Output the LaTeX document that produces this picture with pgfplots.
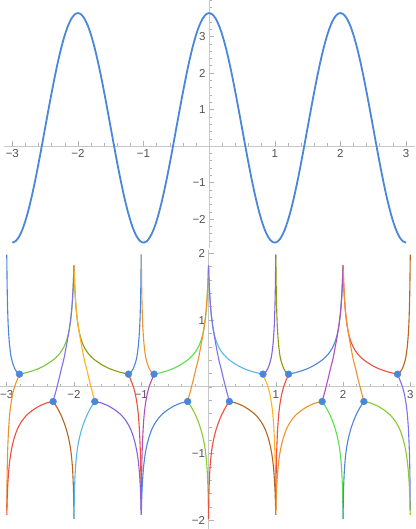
\documentclass[border=0pt]{standalone}
\usepackage{fontspec}
\setmainfont{Liberation Sans}
\usepackage{pgfplots}
\usepackage{pgfplotstable}
\pgfplotsset{compat=1.18}

\definecolor{mblue}{HTML}{4A86D9}
\definecolor{morange}{HTML}{F0922B}
\definecolor{mgreen}{HTML}{7DC53A}
\definecolor{mred}{HTML}{EE4F3C}
\definecolor{mpurple}{HTML}{8A5FE0}
\definecolor{mviolet}{HTML}{7B72EC}
\definecolor{mbrown}{HTML}{B8641A}
\definecolor{mlblue}{HTML}{5BB5E5}
\definecolor{myorange}{HTML}{FFB41F}
\definecolor{mmagenta}{HTML}{B04FC0}
\definecolor{molive}{HTML}{8C9A12}
\definecolor{mbgreen}{HTML}{5CE04A}
\definecolor{mygreen}{HTML}{86CC2A}

\pgfplotsset{
  mstyle/.style={
    scale only axis, anchor=south west,
    axis lines=middle,
    axis line style={draw=black!22, line width=0.7pt, -},
    tick style={draw=black!30, line width=0.5pt},
    major tick length=5pt, minor tick length=3pt,
    tick align=inside,
    tick label style={font=\fontsize{11.5}{12}\selectfont, text=black!68},
    xtick={-3,-2,-1,0,1,2,3},
    xticklabels={−3,−2,−1,,1,2,3},
    minor xtick={-3,-2.8,...,3},
  },
  bline/.style={line width=1.1pt, smooth},
}

\pgfplotstableread{
y a b c d e f
0.19 -2.81 -1.19 -0.81 0.81 1.19 2.81
0.215 -2.7 -1.3 -0.7 0.7 1.3 2.7
0.245 -2.6 -1.4 -0.6 0.6 1.4 2.6
0.285 -2.5 -1.5 -0.5 0.5 1.5 2.5
0.34 -2.4 -1.6 -0.4 0.4 1.6 2.4
0.41 -2.3 -1.7 -0.3 0.3 1.7 2.3
0.49 -2.22 -1.78 -0.22 0.22 1.78 2.22
0.58 -2.16 -1.84 -0.16 0.16 1.84 2.16
0.67 -2.12 -1.88 -0.12 0.12 1.88 2.12
0.77 -2.09 -1.91 -0.09 0.09 1.91 2.09
0.89 -2.065 -1.935 -0.065 0.065 1.935 2.065
1.04 -2.045 -1.955 -0.045 0.045 1.955 2.045
1.19 -2.03 -1.97 -0.03 0.03 1.97 2.03
1.33 -2.02 -1.98 -0.02 0.02 1.98 2.02
1.49 -2.012 -1.988 -0.012 0.012 1.988 2.012
1.65 -2.006 -1.994 -0.006 0.006 1.994 2.006
1.82 -2.002 -1.998 -0.002 0.002 1.998 2.002
}\Hp

\pgfplotstableread{
y a b c d e f
0.19 -2.81 -1.19 -0.81 0.81 1.19 2.81
0.22 -2.85 -1.15 -0.85 0.85 1.15 2.85
0.27 -2.88 -1.12 -0.88 0.88 1.12 2.88
0.35 -2.91 -1.09 -0.91 0.91 1.09 2.91
0.45 -2.935 -1.065 -0.935 0.935 1.065 2.935
0.6 -2.955 -1.045 -0.955 0.955 1.045 2.955
0.74 -2.967 -1.033 -0.967 0.967 1.033 2.967
0.92 -2.978 -1.022 -0.978 0.978 1.022 2.978
1.12 -2.985 -1.015 -0.985 0.985 1.015 2.985
1.35 -2.991 -1.009 -0.991 0.991 1.009 2.991
1.6 -2.995 -1.005 -0.995 0.995 1.005 2.995
1.85 -2.998 -1.002 -0.998 0.998 1.002 2.998
1.98 -2.9995 -1.0005 -0.9995 0.9995 1.0005 2.9995
}\Vp

\pgfplotstableread{
y a b c d e f
0.19 -2.81 -1.19 -0.81 0.81 1.19 2.81
0.14 -2.83 -1.17 -0.83 0.83 1.17 2.83
0.09 -2.85 -1.15 -0.85 0.85 1.15 2.85
0.01 -2.88 -1.12 -0.88 0.88 1.12 2.88
-0.1 -2.91 -1.09 -0.91 0.91 1.09 2.91
-0.24 -2.935 -1.065 -0.935 0.935 1.065 2.935
-0.4 -2.955 -1.045 -0.955 0.955 1.045 2.955
-0.6 -2.97 -1.03 -0.97 0.97 1.03 2.97
-0.8 -2.98 -1.02 -0.98 0.98 1.02 2.98
-1.02 -2.988 -1.012 -0.988 0.988 1.012 2.988
-1.25 -2.993 -1.007 -0.993 0.993 1.007 2.993
-1.45 -2.996 -1.004 -0.996 0.996 1.004 2.996
-1.65 -2.998 -1.002 -0.998 0.998 1.002 2.998
-1.85 -2.9995 -1.0005 -0.9995 0.9995 1.0005 2.9995
}\Vm

\pgfplotstableread{
y a b c d e f
-0.22 -2.31 -1.69 -0.31 0.31 1.69 2.31
-0.24 -2.4 -1.6 -0.4 0.4 1.6 2.4
-0.28 -2.5 -1.5 -0.5 0.5 1.5 2.5
-0.34 -2.6 -1.4 -0.6 0.6 1.4 2.6
-0.42 -2.7 -1.3 -0.7 0.7 1.3 2.7
-0.52 -2.78 -1.22 -0.78 0.78 1.22 2.78
-0.63 -2.84 -1.16 -0.84 0.84 1.16 2.84
-0.74 -2.88 -1.12 -0.88 0.88 1.12 2.88
-0.87 -2.915 -1.085 -0.915 0.915 1.085 2.915
-1.0 -2.94 -1.06 -0.94 0.94 1.06 2.94
-1.15 -2.96 -1.04 -0.96 0.96 1.04 2.96
-1.32 -2.975 -1.025 -0.975 0.975 1.025 2.975
-1.48 -2.985 -1.015 -0.985 0.985 1.015 2.985
-1.64 -2.992 -1.008 -0.992 0.992 1.008 2.992
-1.82 -2.997 -1.003 -0.997 0.997 1.003 2.997
-1.92 -2.999 -1.001 -0.999 0.999 1.001 2.999
}\Hm

\pgfplotstableread{
y a b c d e f
-0.22 -2.31 -1.69 -0.31 0.31 1.69 2.31
-0.14 -2.29 -1.71 -0.29 0.29 1.71 2.29
-0.07 -2.27 -1.73 -0.27 0.27 1.73 2.27
0.01 -2.25 -1.75 -0.25 0.25 1.75 2.25
0.13 -2.22 -1.78 -0.22 0.22 1.78 2.22
0.26 -2.19 -1.81 -0.19 0.19 1.81 2.19
0.42 -2.15 -1.85 -0.15 0.15 1.85 2.15
0.63 -2.11 -1.89 -0.11 0.11 1.89 2.11
0.8 -2.08 -1.92 -0.08 0.08 1.92 2.08
0.97 -2.055 -1.945 -0.055 0.055 1.945 2.055
1.15 -2.035 -1.965 -0.035 0.035 1.965 2.035
1.36 -2.02 -1.98 -0.02 0.02 1.98 2.02
1.56 -2.01 -1.99 -0.01 0.01 1.99 2.01
1.7 -2.004 -1.996 -0.004 0.004 1.996 2.004
1.82 -2.001 -1.999 -0.001 0.001 1.999 2.001
}\Wp

\pgfplotstableread{
y a b c d e f
-0.22 -2.31 -1.69 -0.31 0.31 1.69 2.31
-0.28 -2.27 -1.73 -0.27 0.27 1.73 2.27
-0.35 -2.23 -1.77 -0.23 0.23 1.77 2.23
-0.43 -2.19 -1.81 -0.19 0.19 1.81 2.19
-0.53 -2.15 -1.85 -0.15 0.15 1.85 2.15
-0.65 -2.11 -1.89 -0.11 0.11 1.89 2.11
-0.77 -2.08 -1.92 -0.08 0.08 1.92 2.08
-0.9 -2.055 -1.945 -0.055 0.055 1.945 2.055
-1.06 -2.035 -1.965 -0.035 0.035 1.965 2.035
-1.25 -2.02 -1.98 -0.02 0.02 1.98 2.02
-1.47 -2.01 -1.99 -0.01 0.01 1.99 2.01
-1.65 -2.005 -1.995 -0.005 0.005 1.995 2.005
-1.85 -2.002 -1.998 -0.002 0.002 1.998 2.002
-1.98 -2.0005 -1.9995 -0.0005 0.0005 1.9995 2.0005
}\Wm

\pgfplotstableread{
x y
-3 -2.6416
-2.95 -2.6029
-2.9 -2.4880
-2.85 -2.2992
-2.8 -2.0416
-2.75 -1.7214
-2.7 -1.3466
-2.65 -0.9263
-2.6 -0.4708
-2.55 0.0086
-2.5 0.5
-2.45 0.9914
-2.4 1.4708
-2.35 1.9263
-2.3 2.3466
-2.25 2.7214
-2.2 3.0416
-2.15 3.2992
-2.1 3.4880
-2.05 3.6029
-2 3.6416
-1.95 3.6029
-1.9 3.4880
-1.85 3.2992
-1.8 3.0416
-1.75 2.7214
-1.7 2.3466
-1.65 1.9263
-1.6 1.4708
-1.55 0.9914
-1.5 0.5
-1.45 0.0086
-1.4 -0.4708
-1.35 -0.9263
-1.3 -1.3466
-1.25 -1.7214
-1.2 -2.0416
-1.15 -2.2992
-1.1 -2.4880
-1.05 -2.6029
-1 -2.6416
-0.95 -2.6029
-0.9 -2.4880
-0.85 -2.2992
-0.8 -2.0416
-0.75 -1.7214
-0.7 -1.3466
-0.65 -0.9263
-0.6 -0.4708
-0.55 0.0086
-0.5 0.5
-0.45 0.9914
-0.4 1.4708
-0.35 1.9263
-0.3 2.3466
-0.25 2.7214
-0.2 3.0416
-0.15 3.2992
-0.1 3.4880
-0.05 3.6029
0 3.6416
0.05 3.6029
0.1 3.4880
0.15 3.2992
0.2 3.0416
0.25 2.7214
0.3 2.3466
0.35 1.9263
0.4 1.4708
0.45 0.9914
0.5 0.5
0.55 0.0086
0.6 -0.4708
0.65 -0.9263
0.7 -1.3466
0.75 -1.7214
0.8 -2.0416
0.85 -2.2992
0.9 -2.4880
0.95 -2.6029
1 -2.6416
1.05 -2.6029
1.1 -2.4880
1.15 -2.2992
1.2 -2.0416
1.25 -1.7214
1.3 -1.3466
1.35 -0.9263
1.4 -0.4708
1.45 0.0086
1.5 0.5
1.55 0.9914
1.6 1.4708
1.65 1.9263
1.7 2.3466
1.75 2.7214
1.8 3.0416
1.85 3.2992
1.9 3.4880
1.95 3.6029
2 3.6416
2.05 3.6029
2.1 3.4880
2.15 3.2992
2.2 3.0416
2.25 2.7214
2.3 2.3466
2.35 1.9263
2.4 1.4708
2.45 0.9914
2.5 0.5
2.55 0.0086
2.6 -0.4708
2.65 -0.9263
2.7 -1.3466
2.75 -1.7214
2.8 -2.0416
2.85 -2.2992
2.9 -2.4880
2.95 -2.6029
3 -2.6416
}\Top

\begin{document}
\begin{tikzpicture}
\useasboundingbox (0,0) rectangle (415pt,529pt);
\begin{axis}[mstyle, at={(3.8pt,281pt)}, width=410.7pt, height=248pt,
  xmin=-3.13, xmax=3.13, ymin=-2.79, ymax=4.0,
  ytick={-2,-1,0,1,2,3}, yticklabels={−2,−1,,1,2,3},
  minor ytick={-2.6,-2.4,...,4}]
\addplot[mblue, line width=1.8pt, smooth] table[x=x,y=y] {\Top};
\end{axis}
\begin{axis}[mstyle, at={(0pt,0pt)}, width=415pt, height=279pt,
  xmin=-3.1, xmax=3.07, ymin=-2.13, ymax=2.05,
  ytick={-2,-1,0,1,2}, yticklabels={−2,−1,,1,2},
  minor ytick={-2,-1.8,...,2}]
% upper arches
\addplot[bline, mgreen] table[x=a,y=y] {\Hp};
\addplot[bline, molive] table[x=b,y=y] {\Hp};
\addplot[bline, mbgreen] table[x=c,y=y] {\Hp};
\addplot[bline, mlblue] table[x=d,y=y] {\Hp};
\addplot[bline, mblue] table[x=e,y=y] {\Hp};
\addplot[bline, mred] table[x=f,y=y] {\Hp};
% steep up from upper dots
\addplot[bline, mblue] table[x=a,y=y] {\Vp};
\addplot[bline, mblue] table[x=b,y=y] {\Vp};
\addplot[bline, morange] table[x=c,y=y] {\Vp};
\addplot[bline, mpurple] table[x=d,y=y] {\Vp};
\addplot[bline, molive] table[x=e,y=y] {\Vp};
\addplot[bline, mbrown] table[x=f,y=y] {\Vp};
% steep down from upper dots
\addplot[bline, morange] table[x=a,y=y] {\Vm};
\addplot[bline, mred] table[x=b,y=y] {\Vm};
\addplot[bline, mmagenta] table[x=c,y=y] {\Vm};
\addplot[bline, myorange] table[x=d,y=y] {\Vm};
\addplot[bline, mred] table[x=e,y=y] {\Vm};
\addplot[bline, mviolet] table[x=f,y=y] {\Vm};
% lower arches
\addplot[bline, mred] table[x=a,y=y] {\Hm};
\addplot[bline, mpurple] table[x=b,y=y] {\Hm};
\addplot[bline, mblue] table[x=c,y=y] {\Hm};
\addplot[bline, mbrown] table[x=d,y=y] {\Hm};
\addplot[bline, morange] table[x=e,y=y] {\Hm};
\addplot[bline, mygreen] table[x=f,y=y] {\Hm};
% steep up from lower dots
\addplot[bline, mviolet] table[x=a,y=y] {\Wp};
\addplot[bline, myorange] table[x=b,y=y] {\Wp};
\addplot[bline, morange] table[x=c,y=y] {\Wp};
\addplot[bline, mviolet] table[x=d,y=y] {\Wp};
\addplot[bline, mmagenta] table[x=e,y=y] {\Wp};
\addplot[bline, morange] table[x=f,y=y] {\Wp};
% steep down from lower dots
\addplot[bline, mbrown] table[x=a,y=y] {\Wm};
\addplot[bline, mlblue] table[x=b,y=y] {\Wm};
\addplot[bline, mygreen] table[x=c,y=y] {\Wm};
\addplot[bline, mred] table[x=d,y=y] {\Wm};
\addplot[bline, mbgreen] table[x=e,y=y] {\Wm};
\addplot[bline, mblue] table[x=f,y=y] {\Wm};
% dots
\addplot[only marks, mark=*, mark size=3.4pt, mark options={fill=mblue, draw=mblue}] coordinates {
(-2.81,0.19) (-1.19,0.19) (-0.81,0.19) (0.81,0.19) (1.19,0.19) (2.81,0.19)
(-2.31,-0.22) (-1.69,-0.22) (-0.31,-0.22) (0.31,-0.22) (1.69,-0.22) (2.31,-0.22)};
\end{axis}
\end{tikzpicture}
\end{document}
